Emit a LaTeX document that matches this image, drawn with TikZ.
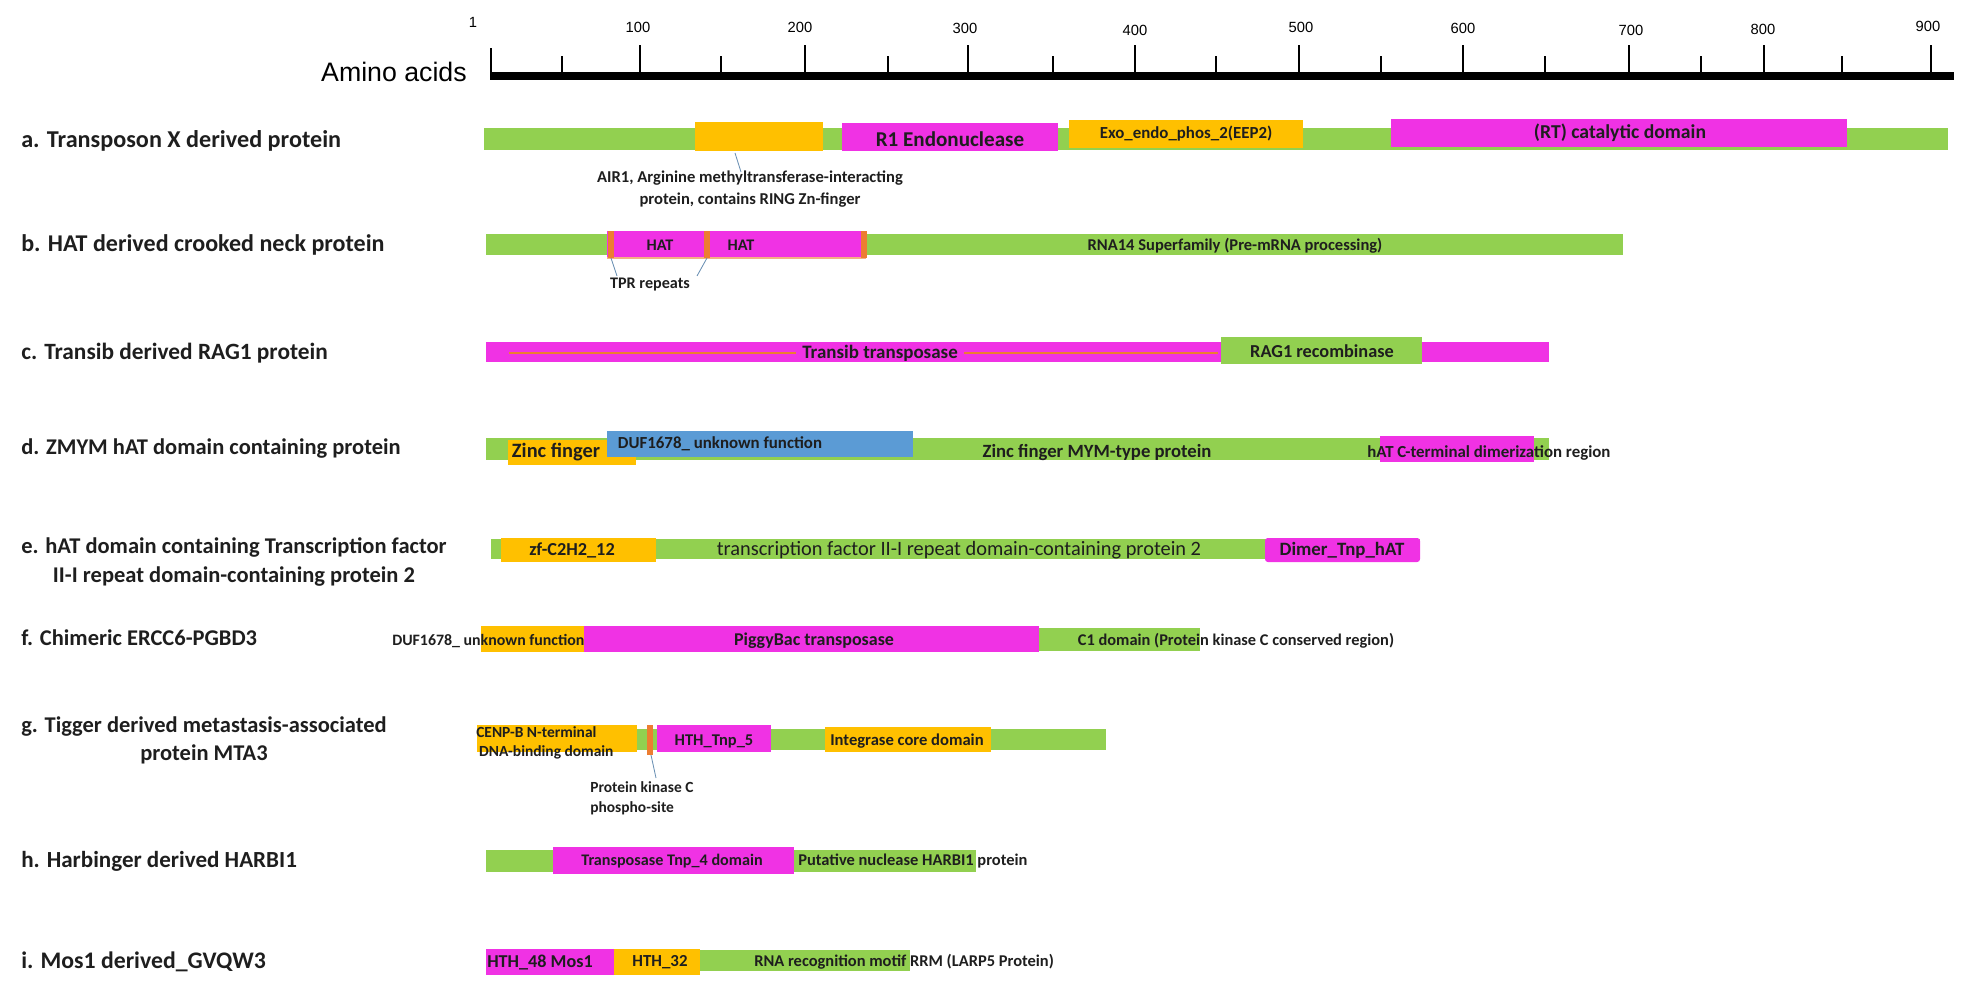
\documentclass[tikz,border=0pt]{standalone}
\usepackage{fontspec}
\setmainfont{Carlito}
\newfontfamily\arialfont{Liberation Sans}
\definecolor{dgreen}{RGB}{146,208,80}
\definecolor{dmagenta}{RGB}{240,50,228}
\definecolor{dorange}{RGB}{255,192,0}
\definecolor{dblue}{RGB}{91,155,213}
\definecolor{dred}{RGB}{237,125,49}
\definecolor{txt}{RGB}{30,30,30}
\tikzset{
  gbar/.style={fill=dgreen},
  mbox/.style={fill=dmagenta},
  obox/.style={fill=dorange},
  bluebox/.style={fill=dblue},
  rowname/.style={anchor=west,align=center,inner sep=0pt,text=txt,font=\fontsize{#1}{20}\selectfont\bfseries},
  rowname/.default=16,
  dlabel/.style={inner sep=0pt,text=txt,font=\fontsize{#1}{14}\selectfont\bfseries},
  dlabel/.default=11.5,
  leader/.style={draw=dblue!60!gray,line width=0.6pt},
}
\begin{document}
\begin{tikzpicture}[x=0.25mm,y=-0.25mm]
\useasboundingbox (0,0) rectangle (1970,994);
% scale of amino acids
\node[inner sep=0pt,anchor=east,font=\arialfont\fontsize{19}{21}\selectfont] (aa) at (467,72) {Amino acids};
\draw[line width=5pt] (490,76) -- (1954,76);
\foreach \x in {640,805,968,1135,1299,1463,1629,1764,1931} \draw[line width=1.3pt] (\x,76) -- (\x,45);
\draw[line width=1.3pt] (491,76) -- (491,48);
\foreach \x in {562,721,888,1053,1216,1381,1545,1701,1842} \draw[line width=1pt] (\x,76) -- (\x,56);
\foreach \x/\n/\y in {473/1/22,638/100/27,800/200/27,965/300/28,1135/400/30,1301/500/27,1463/600/28,1631/700/30,1763/800/29,1928/900/26}
  \node[inner sep=0pt,font=\arialfont\fontsize{10.5}{12}\selectfont] (n\n) at (\x,\y) {\n};

% a. Transposon X
\node[rowname=17.2] (ra) at (21,141) {a. Transposon X derived protein};
\fill[gbar] (484,128) rectangle (1948,150);
\fill[obox] (695,122) rectangle (823,151);
\fill[mbox] (842,123) rectangle (1058,151);
\fill[obox] (1069,120) rectangle (1303,148);
\fill[mbox] (1391,119) rectangle (1847,147);
\node[dlabel=15] (r1) at (950,139) {R1 Endonuclease};
\node[dlabel=12] (exo) at (1186,134) {Exo\_endo\_phos\_2(EEP2)};
\node[dlabel=14] (rt) at (1620,133) {(RT) catalytic domain};
\node[dlabel,align=center,font=\fontsize{11.8}{15.5}\selectfont\bfseries] (air1) at (750,189) {AIR1, Arginine methyltransferase-interacting\\protein, contains RING Zn-finger};
\coordinate (air1top) at (735,153);
\coordinate (air1end) at (741,172);
\draw[leader] (air1top) -- (air1end);

% b. HAT
\node[rowname=17.1] (rb) at (21,245) {b. HAT derived crooked neck protein};
\fill[gbar] (486,234) rectangle (1623,255);
\fill[mbox] (607,231) rectangle (866,258);
\draw[dred!60,line width=1pt] (607,258) -- (866,258);
\foreach \x in {611,707,864} \fill[dred] (\x-3,231) rectangle (\x+3,258);
\node[dlabel] (hat1) at (660,245) {HAT};
\node[dlabel] (hat2) at (741,245) {HAT};
\node[dlabel=11.75] (rna14) at (1235,246) {RNA14 Superfamily (Pre-mRNA processing)};
\node[dlabel=11.5] (tpr) at (650,285) {TPR repeats};
\coordinate (tpr1) at (611,258);
\coordinate (tpr2) at (707,258);
\coordinate (tpr1end) at (617,276);
\coordinate (tpr2end) at (697,276);
\draw[leader] (tpr1) -- (tpr1end);
\draw[leader] (tpr2) -- (tpr2end);

% c. Transib
\node[rowname=16.6] (rc) at (21,353) {c. Transib derived RAG1 protein};
\fill[mbox] (486,342) rectangle (1549,362);
\draw[dred,line width=1.2pt] (509,353) -- (796,353);
\draw[dred,line width=1.2pt] (964,353) -- (1218,353);
\fill[gbar] (1221,337) rectangle (1422,364);
\node[dlabel=13.5] (transib) at (880,353) {Transib transposase};
\node[dlabel=13] (rag1) at (1322,351) {RAG1 recombinase};

% d. ZMYM
\node[rowname] (rd) at (21,449) {d. ZMYM hAT domain containing protein};
\fill[gbar] (486,438) rectangle (1549,460);
\fill[obox] (508,440) rectangle (636,465);
\fill[bluebox] (607,431) rectangle (913,457);
\fill[mbox] (1380,436) rectangle (1534,462);
\node[dlabel=14.5] (zinc) at (556,452) {Zinc finger};
\node[dlabel=12] (duf) at (720,444) {DUF1678\_ unknown function};
\node[dlabel=13.3] (mym) at (1097,453) {Zinc finger MYM-type protein};
\node[dlabel=12,anchor=west] (hatc) at (1367,453) {hAT C-terminal dimerization region};

% e. hAT TF II-I
\node[rowname] (re) at (21,562) {e. hAT domain containing Transcription factor\\II-I repeat domain-containing protein 2};
\fill[gbar] (491,539) rectangle (1420,559);
\fill[obox] (501,538) rectangle (656,562);
\fill[mbox,rounded corners=2pt] (1265,538) rectangle (1420,562);
\node[dlabel=13] (zf) at (572,550) {zf-C2H2\_12};
\node[dlabel,font=\fontsize{14.5}{16}\selectfont] (tf2) at (959,550) {transcription factor II-I repeat domain-containing protein 2};
\node[dlabel=13.4] (dimer) at (1342,550) {Dimer\_Tnp\_hAT};

% f. ERCC6-PGBD3
\node[rowname] (rf) at (21,638) {f. Chimeric ERCC6-PGBD3};
\fill[obox] (481,626) rectangle (584,652);
\fill[mbox] (584,626) rectangle (1039,652);
\fill[gbar] (1039,628) rectangle (1200,651);
\node[dlabel=11.3,anchor=west] (duf2) at (392,641) {DUF1678\_ unknown function};
\node[dlabel=12.8] (piggy) at (814,641) {PiggyBac transposase};
\node[dlabel=11.65] (c1) at (1236,641) {C1 domain (Protein kinase C conserved region)};

% g. Tigger MTA3
\node[rowname] (rg) at (21,740) {g. Tigger derived metastasis-associated\\protein MTA3};
\fill[gbar] (477,729) rectangle (1106,750);
\fill[obox] (477,725) rectangle (637,752);
\fill[dred] (647,725) rectangle (653,755);
\fill[mbox] (657,725) rectangle (771,752);
\fill[obox] (825,727) rectangle (991,752);
\node[dlabel,anchor=west,align=left,font=\fontsize{11}{14}\selectfont\bfseries] (cenpb) at (476,743) {CENP-B N-terminal\\\hspace{2pt}DNA-binding domain};
\node[dlabel=11.7] (hthtnp) at (714,741) {HTH\_Tnp\_5};
\node[dlabel=11.8] (integ) at (907,741) {Integrase core domain};
\node[dlabel,anchor=west,align=left,font=\fontsize{11}{14.5}\selectfont\bfseries] (pkc) at (590,798) {Protein kinase C\\phospho-site};
\coordinate (pkctop) at (651,755);
\coordinate (pkcend) at (656,778);
\draw[leader] (pkctop) -- (pkcend);

% h. Harbinger
\node[rowname=16.4] (rh) at (21,861) {h. Harbinger derived HARBI1};
\fill[gbar] (486,850) rectangle (976,872);
\fill[mbox] (553,847) rectangle (794,874);
\node[dlabel] (tnp4) at (672,861) {Transposase Tnp\_4 domain};
\node[dlabel=11.7,anchor=west] (harbi) at (798,861) {Putative nuclease HARBI1 protein};

% i. Mos1
\node[rowname=16.9] (ri) at (21,962) {i. Mos1 derived\_GVQW3};
\fill[mbox] (486,949) rectangle (614,975);
\fill[obox] (614,949) rectangle (700,975);
\fill[gbar] (700,950) rectangle (910,971);
\node[dlabel=12.9] (hth48) at (540,962) {HTH\_48 Mos1};
\node[dlabel=12] (hth32) at (660,962) {HTH\_32};
\node[dlabel=11.7,anchor=west] (rrm) at (754,962) {RNA recognition motif RRM (LARP5 Protein)};
\end{tikzpicture}
\end{document}
